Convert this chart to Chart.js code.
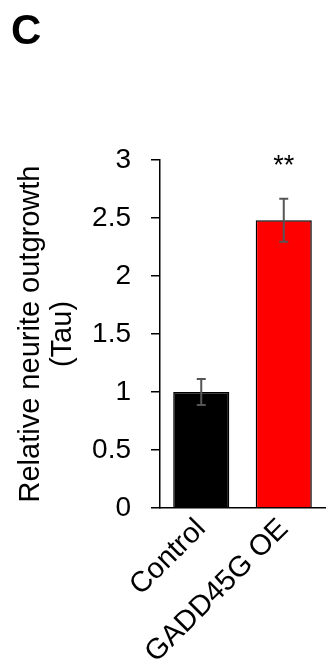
<!DOCTYPE html>
<html>
<head>
<meta charset="utf-8">
<script src="https://cdn.jsdelivr.net/npm/chart.js@4.4.1/dist/chart.umd.min.js"></script>
<style>
  html, body { margin: 0; padding: 0; background: #fff; }
  #wrap { width: 328px; height: 669px; position: relative; }
</style>
</head>
<body>
<div id="wrap"><canvas id="myBarChart"></canvas></div>
<script>
const categories = ['Control', 'GADD45G OE'];
const means = [1.0, 2.48];
const errors = [0.113, 0.185];
const stars = ['', '**'];
const barColors = ['#000000', '#ff0000'];
const panelLetter = 'C';

const FONT = "'Liberation Sans', Arial, sans-serif";

// error bars + significance marks, drawn off the library scales
const errorBarPlugin = {
  id: 'errorBars',
  afterDatasetsDraw(chart) {
    const ctx = chart.ctx;
    const xs = chart.scales.x, ys = chart.scales.y;
    ctx.save();
    categories.forEach((cat, i) => {
      const x = xs.getPixelForValue(i);
      const top = ys.getPixelForValue(means[i] + errors[i]);
      const bot = ys.getPixelForValue(means[i] - errors[i]);
      ctx.strokeStyle = '#555555';
      ctx.lineWidth = 2;
      ctx.beginPath();
      ctx.moveTo(x, top); ctx.lineTo(x, bot);
      ctx.moveTo(x - 4.5, top); ctx.lineTo(x + 4.5, top);
      ctx.moveTo(x - 4.5, bot); ctx.lineTo(x + 4.5, bot);
      ctx.stroke();
      if (stars[i]) {
        ctx.fillStyle = '#000';
        ctx.font = '27px ' + FONT;
        ctx.textAlign = 'center';
        ctx.textBaseline = 'middle';
        ctx.fillText(stars[i], x, ys.getPixelForValue(3) + 7);
      }
    });
    ctx.fillStyle = '#000';
    ctx.font = 'bold 42px ' + FONT;
    ctx.textAlign = 'left';
    ctx.textBaseline = 'alphabetic';
    ctx.fillText(panelLetter, 11, 44);
    ctx.restore();
  }
};

const initChart = () => {
  const ctx = document.getElementById('myBarChart');
  const data = {
    labels: categories,
    datasets: [{
      data: means,
      backgroundColor: barColors,
      borderColor: '#000',
      borderWidth: 1.5,
      categoryPercentage: 1,
      barPercentage: 0.68
    }]
  };
  const config = {
    type: 'bar',
    data,
    options: {
      responsive: true,
      maintainAspectRatio: false,
      animation: false,
      layout: { padding: { top: 160, right: 3, left: 0, bottom: 0 } },
      plugins: { legend: { display: false }, tooltip: { enabled: false } },
      scales: {
        x: {
          afterFit: (scale) => { scale.height = 161; },
          grid: { display: false, drawTicks: false },
          border: { color: '#000', width: 1.5 },
          ticks: {
            color: '#000',
            minRotation: 45, maxRotation: 45,
            padding: 4,
            font: { family: FONT, size: 29 }
          }
        },
        y: {
          min: 0, max: 3,
          afterFit: (scale) => { scale.width = 160; },
          grid: { drawOnChartArea: false, drawTicks: true, tickLength: 9, color: '#000', lineWidth: 1.5 },
          border: { color: '#000', width: 1.5 },
          ticks: {
            stepSize: 0.5,
            color: '#000',
            padding: 20,
            font: { family: FONT, size: 28 },
            callback: (value) => String(value)
          },
          title: {
            display: true,
            text: ['Relative neurite outgrowth', '(Tau)'],
            color: '#000',
            font: { family: FONT, size: 29, lineHeight: 1.1 },
            padding: { top: 15, bottom: 0 }
          }
        }
      }
    },
    plugins: [errorBarPlugin]
  };
  new Chart(ctx, config);
};

initChart();
</script>
</body>
</html>
